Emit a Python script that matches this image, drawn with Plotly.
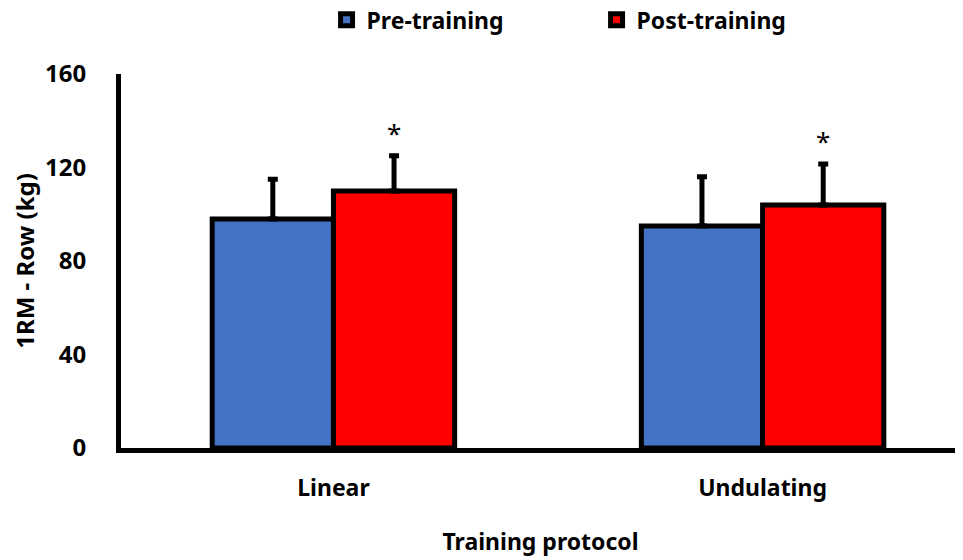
import plotly.graph_objects as go

categories = ["Linear", "Undulating"]
pre_values = [98, 95]
post_values = [110, 104]
pre_err = [17, 21]
post_err = [15, 17.5]
significance = ["*", "*"]
y_ticks = [0, 40, 80, 120, 160]

FONT = "Noto Sans"
x_idx = list(range(len(categories)))

fig = go.Figure()
fig.add_trace(go.Bar(
    x=x_idx, y=pre_values, name="Pre-training",
    marker=dict(color="#4472C4", line=dict(color="black", width=5)),
    error_y=dict(type="data", array=pre_err, arrayminus=[0] * len(pre_err), symmetric=False,
                 color="black", thickness=5, width=5),
))
fig.add_trace(go.Bar(
    x=x_idx, y=post_values, name="Post-training",
    marker=dict(color="#FF0000", line=dict(color="black", width=5)),
    error_y=dict(type="data", array=post_err, arrayminus=[0] * len(post_err), symmetric=False,
                 color="black", thickness=5, width=5),
))

for i, s in enumerate(significance):
    fig.add_annotation(x=i + 0.1413, y=post_values[i] + post_err[i], text=s, showarrow=False,
                       yanchor="bottom", yshift=3, font=dict(family=FONT, size=26, color="black"))

fig.update_layout(
    width=955, height=552,
    paper_bgcolor="white", plot_bgcolor="white",
    margin=dict(l=113, r=3, t=66, b=112, autoexpand=False),
    barmode="group", bargap=0.435, bargroupgap=0,
    font=dict(family=FONT, color="black"),
    legend=dict(orientation="h", x=0.245, xanchor="left", y=1.145, yanchor="middle",
                font=dict(family=FONT, size=23, color="black", weight="bold"),
                entrywidth=225, entrywidthmode="pixels", itemwidth=30),
    showlegend=True,
)
fig.update_xaxes(
    range=[-0.495, 1.46], tickvals=x_idx, ticktext=categories,
    showline=True, linecolor="black", linewidth=5, ticks="", showgrid=False, zeroline=False,
    ticklabelstandoff=15, automargin=False,
    tickfont=dict(family=FONT, size=23, color="black", weight="bold"),
    title=dict(text="Training protocol", font=dict(family=FONT, size=23, color="black", weight="bold"), standoff=34),
)
fig.update_yaxes(
    range=[0, 160], tickvals=y_ticks,
    showline=True, linecolor="black", linewidth=5, ticks="", showgrid=False, zeroline=False,
    ticklabelstandoff=25, automargin=False,
    tickfont=dict(family=FONT, size=24, color="black", weight="bold"),
    title=dict(text="1RM - Row (kg)", font=dict(family=FONT, size=24, color="black", weight="bold"), standoff=18),
)

fig.write_html("out.html")
